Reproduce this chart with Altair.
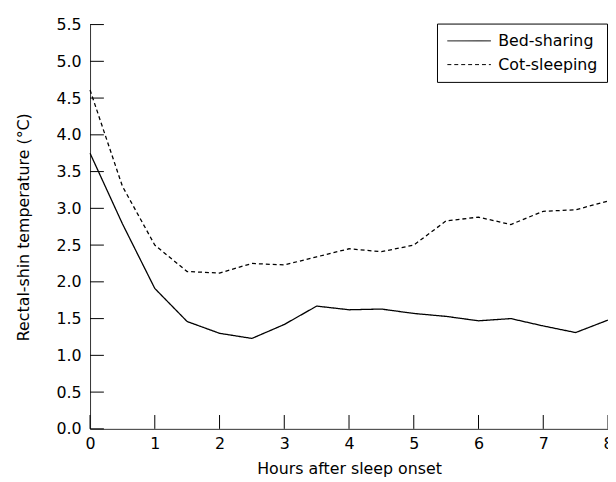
import altair as alt
import pandas as pd

hours = [0, 0.5, 1, 1.5, 2, 2.5, 3, 3.5, 4, 4.5, 5, 5.5, 6, 6.5, 7, 7.5, 8]
bed_sharing = [3.75, 2.79, 1.91, 1.46, 1.30, 1.23, 1.42, 1.67, 1.62, 1.63, 1.57, 1.53, 1.47, 1.50, 1.40, 1.31, 1.48]
cot_sleeping = [4.61, 3.30, 2.50, 2.14, 2.12, 2.25, 2.23, 2.34, 2.45, 2.41, 2.50, 2.83, 2.88, 2.78, 2.96, 2.98, 3.10]
series_names = ["Bed-sharing", "Cot-sleeping"]
y_ticks = [0.0, 0.5, 1.0, 1.5, 2.0, 2.5, 3.0, 3.5, 4.0, 4.5, 5.0, 5.5]
x_ticks = [0, 1, 2, 3, 4, 5, 6, 7, 8]

df = pd.DataFrame({
    "hours": hours + hours,
    "temp": bed_sharing + cot_sleeping,
    "series": [series_names[0]] * len(hours) + [series_names[1]] * len(hours),
})

FONT = "DejaVu Sans"
FS = 16
W, H = 524, 409

xscale = alt.Scale(domain=[0, 8], nice=False, zero=False)
yscale = alt.Scale(domain=[0, 5.5], nice=False, zero=False)

x_axis = alt.Axis(values=x_ticks, format="d", ticks=False, labelPadding=7, labelFlush=False,
                  title="Hours after sleep onset", titleX=W / 2, titleY=45,
                  titleBaseline="alphabetic", titleAlign="center")
y_axis = alt.Axis(values=y_ticks, format=".1f", ticks=False, labelPadding=9, labelFlush=False,
                  title="Rectal-shin temperature (°C)", titleX=-62, titleY=H / 2,
                  titleBaseline="alphabetic", titleAlign="center", titleAngle=270)

lines = alt.Chart(df).mark_line(color="black", strokeWidth=1.3).encode(
    x=alt.X("hours:Q", scale=xscale, axis=x_axis),
    y=alt.Y("temp:Q", scale=yscale, axis=y_axis),
    strokeDash=alt.StrokeDash("series:N", scale=alt.Scale(domain=series_names, range=[[1, 0], [4, 3]]),
        legend=alt.Legend(title=None, orient="none", legendX=351, legendY=-1,
                          symbolType="M-2.75,0H2.75", symbolSize=256, symbolOffset=15,
                          symbolStrokeWidth=1, symbolStrokeColor="black",
                          labelFontSize=FS, labelFont=FONT, labelColor="black",
                          labelOffset=21, padding=9, rowPadding=7,
                          strokeColor="black", fillColor="white")),
)

yt = alt.Chart(pd.DataFrame({"v": y_ticks})).mark_rule(color="black", strokeWidth=1).encode(
    y=alt.Y("v:Q", scale=yscale, axis=y_axis),
    x=alt.value(0), x2=alt.value(14),
)
xt = alt.Chart(pd.DataFrame({"h": x_ticks})).mark_rule(color="black", strokeWidth=1).encode(
    x=alt.X("h:Q", scale=xscale, axis=x_axis),
    y=alt.value(H), y2=alt.value(H - 14),
)

chart = alt.layer(lines, yt, xt).properties(
    width=W, height=H,
    autosize=alt.AutoSizeParams(type="none"),
    padding={"left": 83, "top": 14, "right": 0, "bottom": 51},
).configure(font=FONT).configure_view(strokeWidth=0).configure_axis(
    domainColor="#333", domainWidth=1, grid=False,
    labelFont=FONT, labelFontSize=FS, labelColor="black",
    titleFont=FONT, titleFontSize=FS, titleFontWeight="normal", titleColor="black",
)

chart.save("out.html", embed_options={"renderer": "svg", "actions": False})
